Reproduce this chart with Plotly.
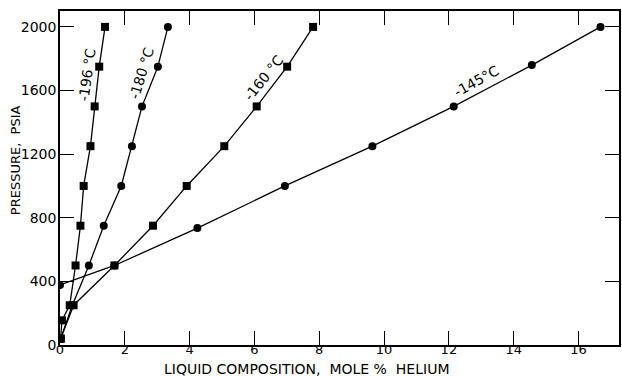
import plotly.graph_objects as go

# Liquid-phase helium solubility isotherms (pressure vs mole % helium)
x_196 = [0.02, 0.06, 0.30, 0.48, 0.63, 0.73, 0.94, 1.07, 1.21, 1.39]
y_196 = [40, 155, 250, 500, 750, 1000, 1250, 1500, 1750, 2000]

x_180 = [0.02, 0.38, 0.89, 1.35, 1.89, 2.22, 2.53, 3.02, 3.33]
y_180 = [40, 250, 500, 750, 1000, 1250, 1500, 1750, 2000]

x_160 = [0.02, 0.42, 1.68, 2.87, 3.91, 5.07, 6.07, 7.01, 7.81]
y_160 = [40, 250, 500, 750, 1000, 1250, 1500, 1750, 2000]

x_145 = [0.0, 1.68, 4.24, 6.94, 9.64, 12.15, 14.56, 16.68]
y_145 = [378, 500, 735, 1000, 1250, 1500, 1760, 2000]

series_labels = ["-196 °C", "-180 °C", "-160 °C", "-145°C"]
label_x = [0.82, 2.52, 6.28, 12.85]
label_y = [1700, 1710, 1680, 1660]
label_angle = [-82, -73, -51, -29]

x_ticks = [0, 2, 4, 6, 8, 10, 12, 14, 16]
y_ticks = [0, 400, 800, 1200, 1600, 2000]

FONT = "DejaVu Sans"

fig = go.Figure()

for xs, ys, sym in [
    (x_196, y_196, "square"),
    (x_180, y_180, "circle"),
    (x_160, y_160, "square"),
    (x_145, y_145, "circle"),
]:
    fig.add_trace(go.Scatter(
        x=xs, y=ys, mode="lines+markers",
        line=dict(color="black", width=1.3),
        marker=dict(symbol=sym, size=8, color="black"),
        showlegend=False,
    ))

for txt, lx, ly, ang in zip(series_labels, label_x, label_y, label_angle):
    fig.add_annotation(
        x=lx, y=ly, xref="x", yref="y", text=txt, showarrow=False,
        textangle=ang, font=dict(family=FONT, size=14, color="black"),
    )

# axis titles, positioned in pixels and converted to paper units below
fig.add_annotation(
    x=15, y=160, xref="paper", yref="paper", text="PRESSURE,  PSIA",
    showarrow=False, textangle=-90, xanchor="center", yanchor="middle",
    font=dict(family=FONT, size=13, color="black"),
)
fig.add_annotation(
    x=307, y=369, text="LIQUID COMPOSITION,  MOLE %  HELIUM",
    showarrow=False, xanchor="center", yanchor="middle",
    font=dict(family=FONT, size=14, color="black"),
)

axis_common = dict(
    showgrid=False, zeroline=False, showline=True, linecolor="black",
    linewidth=1.5, mirror="ticks", ticks="inside", ticklen=14,
    tickcolor="black", tickwidth=1,
)

fig.update_xaxes(range=[0, 17.25], tickvals=x_ticks,
                 ticktext=[str(v) for v in x_ticks],
                 tickfont=dict(family=FONT, size=13, color="black"),
                 ticklabelstandoff=-8, **axis_common)
fig.update_yaxes(range=[0, 2100], tickvals=y_ticks,
                 ticktext=[str(v) for v in y_ticks],
                 tickfont=dict(family=FONT, size=14, color="black"),
                 ticklabelstandoff=-1, **axis_common)

fig.update_layout(
    width=622, height=376,
    margin=dict(l=60, r=1, t=11, b=31),
    plot_bgcolor="white", paper_bgcolor="white",
)

W, H = 622, 376
pw, ph = W - 60 - 1, H - 11 - 31
for ann in fig.layout.annotations:
    if ann.xref == "paper" or ann.xref is None:
        px, py = ann.x, ann.y
        ann.xref = "paper"
        ann.yref = "paper"
        ann.x = (px - 60) / pw
        ann.y = (H - 31 - py) / ph

fig.write_html("out.html")
